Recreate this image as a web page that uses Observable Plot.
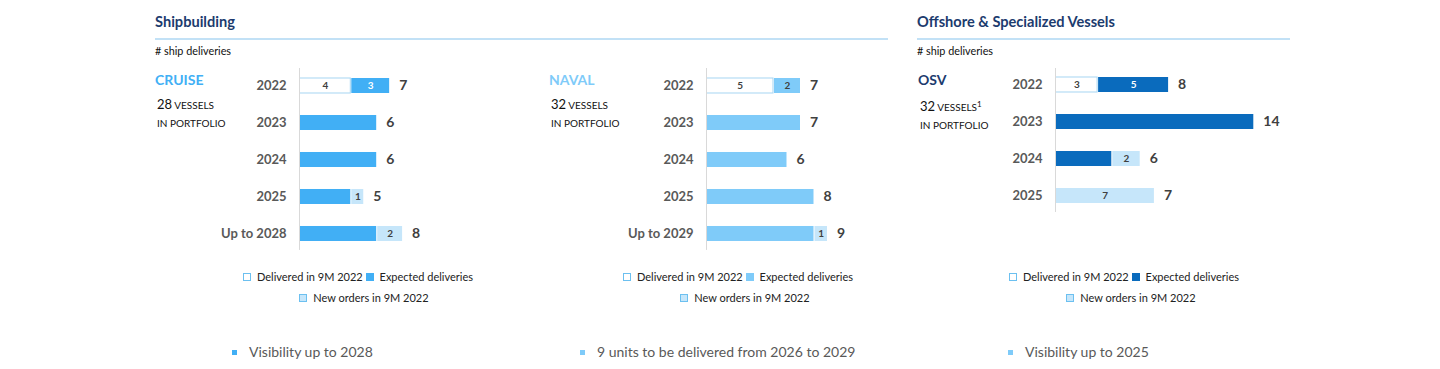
<!DOCTYPE html>
<html><head><meta charset="utf-8">
<script src="https://cdn.jsdelivr.net/npm/d3@7"></script>
<script src="https://cdn.jsdelivr.net/npm/@observablehq/plot@0.6"></script>
<style>
body{margin:0;background:#fff;font-family:Lato,"Open Sans",sans-serif;}
#root{position:relative;width:1440px;height:369px;overflow:hidden;background:#fff;}
.abs{position:absolute;white-space:nowrap;}
.hdr{font-size:14.6px;font-weight:bold;color:#1c3b6e;}
.rule{position:absolute;height:2px;background:#c2e1f6;}
.sub{font-size:10.8px;color:#111;}
.seg{font-size:14px;font-weight:bold;}
.port{font-size:10px;color:#111;line-height:18px;}
.port b{font-size:13px;font-weight:normal;}
.leg{font-size:11px;color:#222;text-align:center;width:320px;}
.sw{display:inline-block;width:8px;height:8px;margin:0 6px 0 0;vertical-align:-0px;box-sizing:border-box;}
.bul{font-size:14px;color:#595959;}
.bsq{position:absolute;width:5px;height:5px;}
svg{position:absolute;overflow:visible;}
</style></head><body><div id="root"></div>
<script>
// ---- data ----
const seriesNames = ["Delivered in 9M 2022", "Expected deliveries", "New orders in 9M 2022"];

const cruiseCategories = ["2022", "2023", "2024", "2025", "Up to 2028"];
const cruiseDelivered = [4, 0, 0, 0, 0];
const cruiseExpected = [3, 6, 6, 4, 6];
const cruiseNewOrders = [0, 0, 0, 1, 2];

const navalCategories = ["2022", "2023", "2024", "2025", "Up to 2029"];
const navalDelivered = [5, 0, 0, 0, 0];
const navalExpected = [2, 7, 6, 8, 8];
const navalNewOrders = [0, 0, 0, 0, 1];

const osvCategories = ["2022", "2023", "2024", "2025"];
const osvDelivered = [3, 0, 0, 0];
const osvExpected = [5, 14, 4, 0];
const osvNewOrders = [0, 0, 2, 7];

const root = document.getElementById("root");
function add(html) { root.insertAdjacentHTML("beforeend", html); }

// ---- headers ----
add(`<div class="abs hdr" style="left:155px;top:13px">Shipbuilding</div>`);
add(`<div class="rule" style="left:155px;top:38px;width:733px"></div>`);
add(`<div class="abs hdr" style="left:917px;top:13px">Offshore &amp; Specialized Vessels</div>`);
add(`<div class="rule" style="left:917px;top:38px;width:373px"></div>`);
add(`<div class="abs sub" style="left:155px;top:44px"># ship deliveries</div>`);
add(`<div class="abs sub" style="left:917px;top:44px"># ship deliveries</div>`);

const NEW_FILL = "#c6e6fa";
const DELIV_STROKE = "#a6d5f2";

function panel(cfg) {
  const {cats, deliv, exp, neu, expColor, expText, left, top, width, ml, pxPerUnit, dmax} = cfg;
  const rows = [];
  cats.forEach((c, i) => {
    const vals = [deliv[i], exp[i], neu[i]];
    vals.forEach((v, s) => {
      if (v > 0) rows.push({cat: c, series: seriesNames[s], s, value: v, labeled: s !== 1 || deliv[i] > 0});
    });
  });
  const totals = cats.map((c, i) => ({cat: c, total: deliv[i] + exp[i] + neu[i]}));
  const fills = [ "#ffffff", expColor, NEW_FILL ];
  const textFills = [ "#404040", expText, "#404040" ];
  const n = cats.length;
  const step = 37.9;
  const pi = 0.6, po = 0.2;
  const range = step * (n - pi + 2 * po);
  const mt = 8, mb = 8;
  const height = mt + range + mb;
  const mr = width - ml - pxPerUnit * dmax;
  const chart = Plot.plot({
    width, height,
    marginLeft: ml, marginRight: mr, marginTop: mt, marginBottom: mb,
    style: {fontFamily: "Lato, 'Open Sans', sans-serif", background: "transparent", overflow: "visible"},
    x: {domain: [0, dmax], axis: null},
    y: {domain: cats, paddingInner: pi, paddingOuter: po, label: null},
    color: {type: "identity"},
    marks: [
      Plot.barX(rows, Plot.stackX({
        x: "value", y: "cat", order: "s",
        fill: d => fills[d.s],
        stroke: d => d.s === 0 ? DELIV_STROKE : "none",
        strokeWidth: 1, insetLeft: 0.5, insetRight: 0.5
      })),
      Plot.text(rows, Plot.stackX({
        x: "value", y: "cat", order: "s",
        text: d => d.labeled ? String(d.value) : "",
        fill: d => textFills[d.s],
        fontSize: 10, fontWeight: "bold"
      })),
      Plot.text(totals, {x: "total", y: "cat", text: d => String(d.total), dx: 9, textAnchor: "start",
        fontSize: 14, fontWeight: "bold", fill: "#404040"}),
      Plot.ruleX([0], {stroke: "#d9d9d9", strokeWidth: 1}),
      Plot.axisY({tickSize: 0, tickPadding: 13, fontSize: 13, fontWeight: "bold", color: "#595959", label: null})
    ]
  });
  chart.style.left = left + "px";
  chart.style.top = top + "px";
  root.appendChild(chart);
}

panel({cats: cruiseCategories, deliv: cruiseDelivered, exp: cruiseExpected, neu: cruiseNewOrders,
  expColor: "#41aff5", expText: "#ffffff", left: 200, top: 60, width: 240, ml: 99, pxPerUnit: 12.95, dmax: 10});
panel({cats: navalCategories, deliv: navalDelivered, exp: navalExpected, neu: navalNewOrders,
  expColor: "#7fcbf9", expText: "#404040", left: 600, top: 60, width: 260, ml: 106, pxPerUnit: 13.5, dmax: 10});
panel({cats: osvCategories, deliv: osvDelivered, exp: osvExpected, neu: osvNewOrders,
  expColor: "#0a6bbd", expText: "#ffffff", left: 950, top: 60, width: 340, ml: 105, pxPerUnit: 14.2, dmax: 16});

// ---- segment labels ----
function seg(name, color, x, n, superscript) {
  add(`<div class="abs seg" style="left:${x}px;top:71px;color:${color}">${name}</div>`);
  add(`<div class="abs port" style="left:${x + 2}px;top:95px"><b>${n}</b> VESSELS${superscript ? "<sup style='font-size:8px'>1</sup>" : ""}<br>IN PORTFOLIO</div>`);
}
seg("CRUISE", "#41aff5", 155, 28, false);
seg("NAVAL", "#7fcbf9", 549, 32, false);
seg("OSV", "#1c3b6e", 918, 32, true);

// ---- legends ----
function legend(center1, center2, expColor) {
  add(`<div class="abs leg" style="left:${center1 - 160}px;top:270px"><span class="sw" style="border:1.5px solid #6cc0f0;background:#fff"></span>${seriesNames[0]} <span class="sw" style="background:${expColor}"></span>${seriesNames[1]}</div>`);
  add(`<div class="abs leg" style="left:${center2 - 160}px;top:291px"><span class="sw" style="border:1.5px solid #6cc0f0;background:${NEW_FILL}"></span>${seriesNames[2]}</div>`);
}
legend(358, 364, "#41aff5");
legend(738, 745, "#7fcbf9");
legend(1124, 1131, "#0a6bbd");

// ---- bullets ----
function bullet(x, color, text) {
  add(`<div class="bsq" style="left:${x}px;top:350px;background:${color}"></div>`);
  add(`<div class="abs bul" style="left:${x + 17}px;top:343px">${text}</div>`);
}
bullet(232, "#41aff5", "Visibility up to 2028");
bullet(580, "#7fcbf9", "9 units to be delivered from 2026 to 2029");
bullet(1008, "#7fcbf9", "Visibility up to 2025");
</script>
</body></html>
